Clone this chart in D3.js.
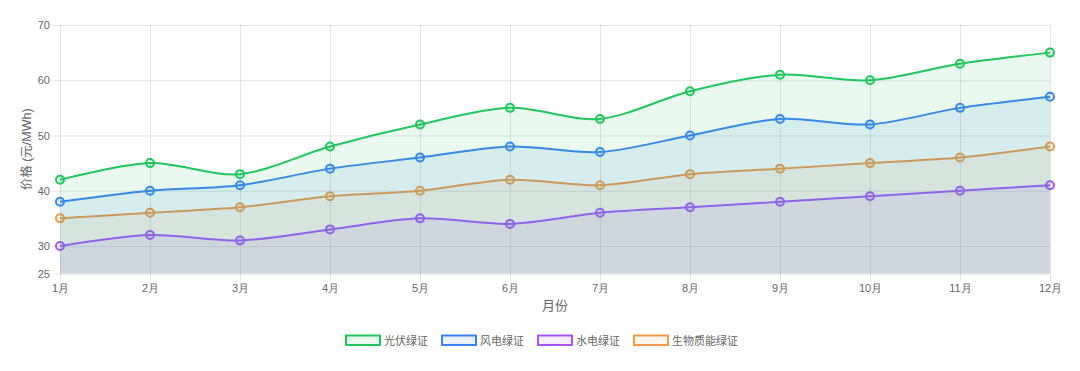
<!DOCTYPE html>
<html><head><meta charset="utf-8">
<script src="https://cdn.jsdelivr.net/npm/d3@7"></script>
<style>
html,body{margin:0;padding:0;background:#fff;}
svg{display:block;font-family:"Liberation Sans","Noto Sans CJK SC",Arial,sans-serif;}
</style></head>
<body>
<svg id="c" width="1080" height="371"></svg>
<script>
const months = ["1月","2月","3月","4月","5月","6月","7月","8月","9月","10月","11月","12月"];
const seriesNames = ["光伏绿证","风电绿证","水电绿证","生物质能绿证"];
const solar   = [42,45,43,48,52,55,53,58,61,60,63,65];
const wind    = [38,40,41,44,46,48,47,50,53,52,55,57];
const hydro   = [30,32,31,33,35,34,36,37,38,39,40,41];
const biomass = [35,36,37,39,40,42,41,43,44,45,46,48];
const yTicks  = [25,30,40,50,60,70];
const colors  = ["#22c55e","#3b82f6","#a855f7","#f2994a"];
const xTitle = "月份";
const yTitle = "价格 (元/MWh)";

const seriesValues = [solar, wind, hydro, biomass];
const svg = d3.select("#c");
const L = 60, R = 1050, T = 25, B = 273.6;
const x = d3.scalePoint().domain(months).range([L, R]);
const y = d3.scaleLinear().domain([25, 70]).range([B, T]);
const grid = "rgba(0,0,0,0.1)";
const tickColor = "#666";

// y grid + ticks
const gy = svg.append("g").attr("transform", `translate(${L},0)`);
gy.call(d3.axisLeft(y).tickValues(yTicks).tickSize(8).tickSizeOuter(0).tickPadding(0));
gy.select(".domain").remove();
gy.selectAll(".tick line").attr("stroke", grid).attr("x2", R - L).attr("x1", -8);
gy.selectAll(".tick text").attr("fill", tickColor).attr("font-size", 11).attr("x", -10);

// x grid + ticks
const gx = svg.append("g").attr("transform", `translate(0,${B})`);
gx.call(d3.axisBottom(x).tickSize(8).tickSizeOuter(0).tickPadding(3));
gx.select(".domain").remove();
gx.selectAll(".tick line").attr("stroke", grid).attr("y1", -(B - T)).attr("y2", 8);
gx.selectAll(".tick text").attr("fill", tickColor).attr("font-size", 11);

// axis titles
svg.append("text").attr("x", (L + R) / 2).attr("y", 310).attr("text-anchor", "middle")
  .attr("fill", tickColor).attr("font-size", 13).text(xTitle);
svg.append("text").attr("transform", `translate(31,${(T + B) / 2}) rotate(-90)`)
  .attr("text-anchor", "middle").attr("fill", tickColor).attr("font-size", 12.5).text(yTitle);

// series, drawn last-first like Chart.js
const curve = d3.curveCardinal.tension(0.1);
const line = d3.line().x((d, i) => x(months[i])).y(d => y(d)).curve(curve);
const area = d3.area().x((d, i) => x(months[i])).y0(B).y1(d => y(d)).curve(curve);
for (let s = seriesValues.length - 1; s >= 0; s--) {
  const vals = seriesValues[s];
  const c = colors[s];
  const g = svg.append("g");
  g.append("path").datum(vals).attr("d", area).attr("fill", c).attr("fill-opacity", 0.1);
  g.append("path").datum(vals).attr("d", line).attr("fill", "none").attr("stroke", c).attr("stroke-width", 2);
  g.selectAll("circle").data(vals).join("circle")
    .attr("cx", (d, i) => x(months[i])).attr("cy", d => y(d)).attr("r", 4)
    .attr("fill", d3.color(c).copy({opacity: 0.1}).formatRgb())
    .attr("stroke", c).attr("stroke-width", 2);
}

// legend
const legendX = [345, 441, 537, 633];
const lg = svg.append("g");
seriesNames.forEach((n, i) => {
  const g = lg.append("g").attr("transform", `translate(${legendX[i]},334.5)`);
  g.append("rect").attr("x", 1).attr("y", 1).attr("width", 34).attr("height", 9.5)
    .attr("fill", d3.color(colors[i]).copy({opacity: 0.1}).formatRgb())
    .attr("stroke", colors[i]).attr("stroke-width", 2);
  g.append("text").attr("x", 39).attr("y", 10).attr("fill", tickColor).attr("font-size", 11).text(n);
});
</script>
</body></html>
